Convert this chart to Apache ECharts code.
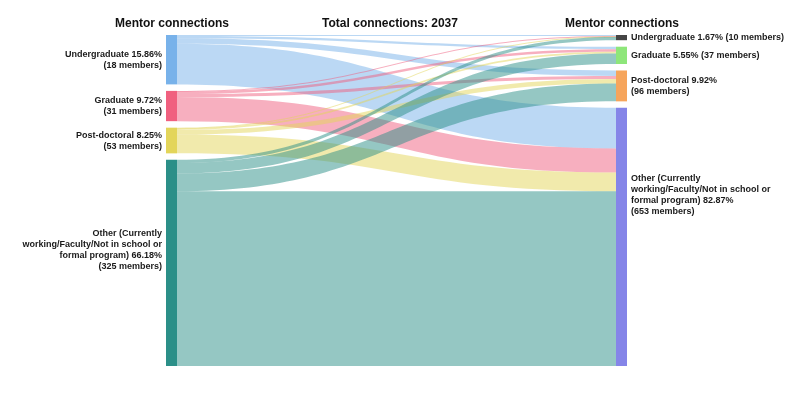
<!DOCTYPE html>
<html>
<head>
<meta charset="utf-8">
<script src="https://cdn.jsdelivr.net/npm/echarts@6/dist/echarts.min.js"></script>
<style>html,body{margin:0;padding:0;background:#fff}#c{width:792px;height:398px}</style>
</head>
<body>
<div id="c"></div>
<script>
// Source (left) and target (right) categories
const categories = ['Undergraduate', 'Graduate', 'Post-doctoral', 'Other'];
const leftLabels = [
  'Undergraduate 15.86%\n(18 members)',
  'Graduate 9.72%\n(31 members)',
  'Post-doctoral 8.25%\n(53 members)',
  'Other (Currently\nworking/Faculty/Not in school or\nformal program) 66.18%\n(325 members)'
];
const rightLabels = [
  'Undergraduate 1.67% (10 members)',
  'Graduate 5.55% (37 members)',
  'Post-doctoral 9.92%\n(96 members)',
  'Other (Currently\nworking/Faculty/Not in school or\nformal program) 82.87%\n(653 members)'
];
// Connections from each left category to right categories (UG, Grad, Post-doc, Other)
const fromUndergraduate = [6, 16, 36, 265];
const fromGraduate = [4, 17, 19, 158];
const fromPostdoctoral = [3, 12, 30, 123];
const fromOther = [21, 68, 117, 1142];
const flows = [fromUndergraduate, fromGraduate, fromPostdoctoral, fromOther];
const totalConnections = 2037;

const leftColors = ['#78b2ea', '#f0607f', '#e3d55a', '#2b8f88'];
const rightColors = ['#454545', '#8ee67a', '#f6a55c', '#8585e8'];
const leftLabelShift = [0, 0, 0, -13];
const rightLabelShift = [0, 0, 0, -42];

const nodes = [];
categories.forEach((c, i) => nodes.push({
  name: 'L-' + c, itemStyle: {color: leftColors[i]},
  label: {position: 'left', align: 'right', formatter: leftLabels[i], offset: [0, leftLabelShift[i]]}
}));
categories.forEach((c, i) => nodes.push({
  name: 'R-' + c, itemStyle: {color: rightColors[i]},
  label: {position: 'right', align: 'left', formatter: rightLabels[i], offset: [0, rightLabelShift[i]]}
}));
const links = [];
flows.forEach((row, i) => row.forEach((v, j) => links.push({
  source: 'L-' + categories[i], target: 'R-' + categories[j], value: v
})));

const chart = echarts.init(document.getElementById('c'), null, {renderer: 'canvas'});
const titleStyle = {fontSize: 12, fontWeight: 'bold', fill: '#111', fontFamily: 'Liberation Sans, Arial, sans-serif', textAlign: 'center', textVerticalAlign: 'middle'};
chart.setOption({
  animation: false,
  graphic: [
    {type: 'text', x: 172, y: 24, style: Object.assign({text: 'Mentor connections'}, titleStyle)},
    {type: 'text', x: 390, y: 24, style: Object.assign({text: 'Total connections: ' + totalConnections}, titleStyle)},
    {type: 'text', x: 622, y: 24, style: Object.assign({text: 'Mentor connections'}, titleStyle)}
  ],
  series: [{
    type: 'sankey',
    left: 166, right: 165, top: 35, bottom: 32,
    nodeWidth: 11,
    nodeGap: 6.5,
    layoutIterations: 0,
    draggable: false,
    emphasis: {disabled: true},
    data: nodes,
    links: links,
    itemStyle: {borderWidth: 0},
    lineStyle: {color: 'source', opacity: 0.5, curveness: 0.5},
    label: {
      show: true, fontSize: 9, fontWeight: 'bold', color: '#1a1a1a',
      fontFamily: 'Liberation Sans, Arial, sans-serif', lineHeight: 11, distance: 4
    }
  }]
});
</script>
</body>
</html>
